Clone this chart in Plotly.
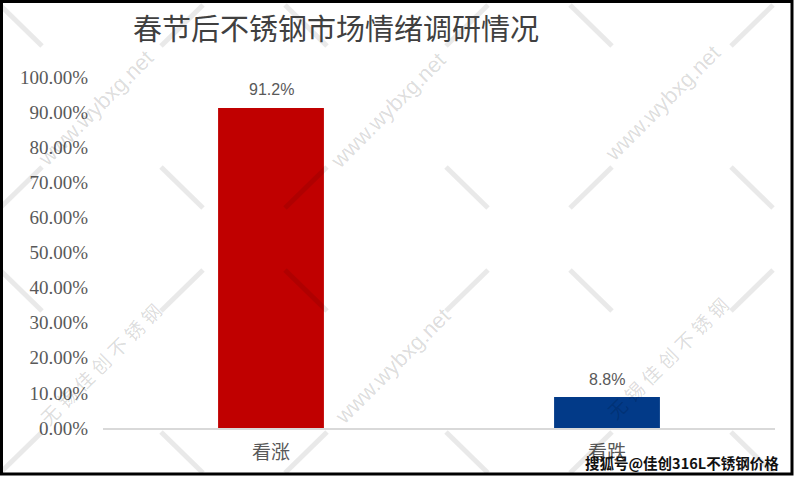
import plotly.graph_objects as go

# ---- data ----
categories = ["看涨", "看跌"]
values = [0.912, 0.088]
value_labels = ["91.2%", "8.8%"]
bar_colors = ["#C00000", "#023A88"]
tick_vals = [i / 10 for i in range(11)]
tick_text = ["%.2f%%" % (v * 100) for v in tick_vals]
title_text = "春节后不锈钢市场情绪调研情况"
source_text = "搜狐号@佳创316L不锈钢价格"
wm_site = "www.wybxg.net"
wm_name = "无锡佳创不锈钢"

W, H = 797, 480
L, R, T, B = 103, 775, 77, 428  # plot area in px


def px(x):
    return (x - L) / (R - L)


def py(y):
    return (B - y) / (B - T)


fig = go.Figure()
fig.add_trace(go.Bar(
    x=categories, y=values, width=0.315,
    marker=dict(color=bar_colors, line=dict(width=0)),
    hoverinfo="skip",
))

shapes = []
# watermark X lines
wm_line = "rgba(0,0,0,0.085)"
for cx in [-41, 244, 529, 814]:
    for cy in [-26, 239, 504]:
        for sx in (-1, 1):
            for sy in (-1, 1):
                shapes.append(dict(
                    type="line", xref="paper", yref="paper", layer="above",
                    x0=px(cx + sx * 41), y0=py(cy + sy * 31),
                    x1=px(cx + sx * 83), y1=py(cy + sy * 72),
                    line=dict(color=wm_line, width=5),
                ))
# outer frame
shapes.append(dict(type="rect", xref="paper", yref="paper", layer="above",
                   x0=px(1.5), y0=py(1.5), x1=px(792), y1=py(474),
                   line=dict(color="black", width=3)))

annotations = []
# value labels
for c, v, t in zip(categories, values, value_labels):
    annotations.append(dict(
        x=c, y=v, xref="x", yref="y", text=t, showarrow=False,
        xanchor="center", yanchor="middle", yshift=18,
        font=dict(family="Liberation Sans Narrow, Arial Narrow, Liberation Sans", size=16, color="#595959"),
    ))
# title
annotations.append(dict(
    x=px(336), y=py(27), xref="paper", yref="paper", text=title_text,
    showarrow=False, xanchor="center", yanchor="middle",
    font=dict(family="Noto Sans CJK SC", size=29, color="#404040"),
))
# watermark texts
wm_font = "rgba(0,0,0,0.15)"
for (x, y) in [(95, 108), (388, 111), (662, 103), (392, 366)]:
    annotations.append(dict(
        x=px(x), y=py(y), xref="paper", yref="paper", text=wm_site,
        showarrow=False, textangle=-45, xanchor="center", yanchor="middle",
        font=dict(family="Liberation Sans", size=22, color=wm_font),
    ))
for (x, y) in [(100, 363), (667, 357)]:
    annotations.append(dict(
        x=px(x), y=py(y), xref="paper", yref="paper",
        text="\u2005".join(wm_name),
        showarrow=False, textangle=-45, xanchor="center", yanchor="middle",
        font=dict(family="Noto Sans CJK SC", size=19, color=wm_font),
    ))
# source watermark
annotations.append(dict(
    x=px(682), y=py(462), xref="paper", yref="paper", text="<b>" + source_text + "</b>",
    showarrow=False, xanchor="center", yanchor="middle",
    font=dict(family="Noto Sans CJK SC", size=14.5, color="#111111"),
))

fig.update_layout(
    width=W, height=H,
    margin=dict(l=L, r=W - R, t=T, b=H - B, pad=0),
    paper_bgcolor="white", plot_bgcolor="white",
    showlegend=False,
    shapes=shapes, annotations=annotations,
    xaxis=dict(
        range=[-0.5, 1.5], showgrid=False, zeroline=False,
        showline=True, linecolor="#D9D9D9", linewidth=1.5,
        ticks="outside", ticklen=7, tickcolor="rgba(0,0,0,0)",
        tickfont=dict(family="Noto Sans CJK SC", size=19, color="#595959"),
    ),
    yaxis=dict(
        range=[0, 1], showgrid=False, zeroline=False, showline=False,
        tickvals=tick_vals, ticktext=tick_text,
        ticks="outside", ticklen=10, tickcolor="rgba(0,0,0,0)",
        tickfont=dict(family="Liberation Serif, Times New Roman", size=19, color="#595959"),
    ),
)

fig.write_html(
    "out.html",
    config={"displayModeBar": False, "staticPlot": True},
    post_script="document.body.style.margin='0';document.body.style.overflow='hidden';",
)
